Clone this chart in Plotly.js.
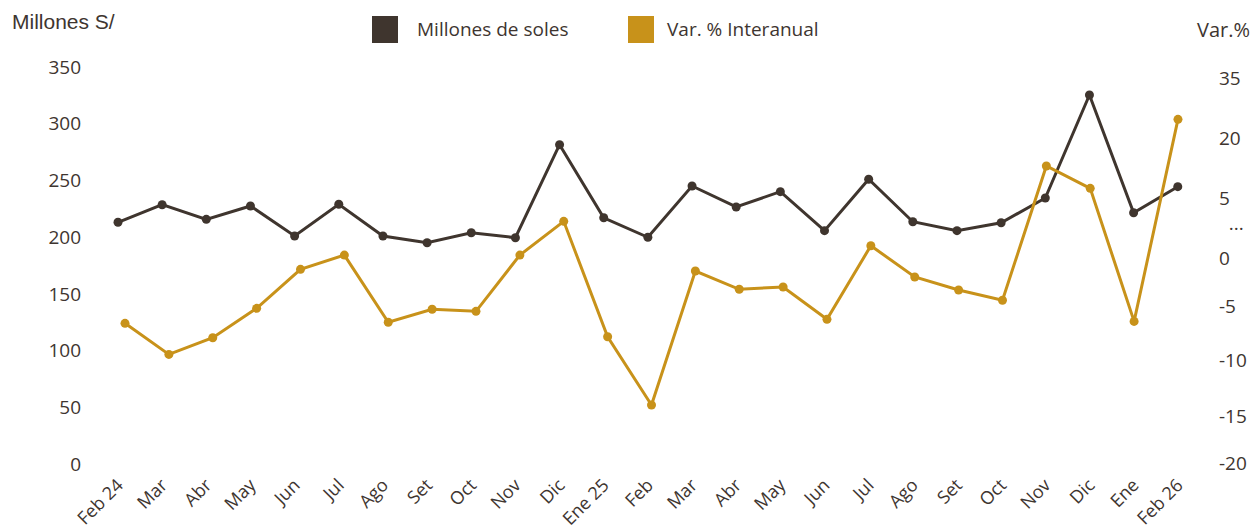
<!DOCTYPE html>
<html>
<head>
<meta charset="utf-8">
<script src="https://cdn.plot.ly/plotly-3.0.1.min.js"></script>
<style>html,body{margin:0;padding:0;background:#fff;}#chart{width:1258px;height:530px;}</style>
</head>
<body>
<div id="chart"></div>
<script>
// Categories (months)
var months = ["Feb 24","Mar","Abr","May","Jun","Jul","Ago","Set","Oct","Nov","Dic","Ene 25",
              "Feb","Mar ","Abr ","May ","Jun ","Jul ","Ago ","Set ","Oct ","Nov ","Dic ","Ene","Feb 26"];
var monthLabels = ["Feb 24","Mar","Abr","May","Jun","Jul","Ago","Set","Oct","Nov","Dic","Ene 25",
              "Feb","Mar","Abr","May","Jun","Jul","Ago","Set","Oct","Nov","Dic","Ene","Feb 26"];

// Millones de soles (left axis)
var millonesSoles = [213.1,228.6,215.7,227.5,201.0,229.0,201.0,195.1,203.9,199.5,281.5,217.1,
                     199.9,245.1,226.6,240.1,205.7,251.0,213.6,205.7,212.7,234.5,325.3,221.5,244.5];

// Var. % interanual (right axis, in the axis' drawn units)
var varInteranual = [-6.37,-9.40,-7.78,-4.91,-1.10,0.29,-6.27,-5.00,-5.20,0.29,3.58,-7.68,
                     -14.34,-1.27,-3.05,-2.83,-5.98,1.20,-1.85,-3.12,-4.12,8.98,6.80,-6.18,13.53];

// Axis ticks
var leftTicks = [0,50,100,150,200,250,300,350];
var rightTickVals = [-20,-15.4,-9.95,-4.75,0,3.4,5.85,11.7,17.55];
var rightTickText = ["-20","-15","-10","-5","0","\u00a0\u00a0...","5","20","35"];

var darkColor = "#3f352e";
var goldColor = "#c8921a";
var textColor = "#3e3530";
var font = "Open Sans, Noto Sans, sans-serif";

var traces = [
  {
    x: months, y: millonesSoles, xaxis: "x", yaxis: "y",
    type: "scatter", mode: "lines+markers", name: "Millones de soles",
    line: {color: darkColor, width: 3}, marker: {color: darkColor, size: 9},
    showlegend: false, hoverinfo: "y"
  },
  {
    x: months, y: varInteranual, xaxis: "x2", yaxis: "y2",
    type: "scatter", mode: "lines+markers", name: "Var. % Interanual",
    line: {color: goldColor, width: 3}, marker: {color: goldColor, size: 9},
    showlegend: false, hoverinfo: "y"
  }
];

var L = 90, R = 48, T = 60, B = 60;
var W = 1258 - L - R, H = 530 - T - B;
function px(xp){ return (xp - L) / W; }
function py(yp){ return (530 - B - yp) / H; }

var layout = {
  width: 1258, height: 530,
  margin: {l: L, r: R, t: T, b: B},
  paper_bgcolor: "#ffffff",
  plot_bgcolor: "rgba(0,0,0,0)",
  font: {family: font, color: textColor, size: 19},
  showlegend: false,
  xaxis: {
    type: "category", categoryorder: "array", categoryarray: months,
    tickvals: months, ticktext: monthLabels,
    range: [-0.634, 24.73], tickangle: -45,
    showgrid: false, zeroline: false, showline: false, ticks: "",
    tickfont: {size: 18, color: textColor}, fixedrange: true
  },
  xaxis2: {
    type: "category", categoryorder: "array", categoryarray: months,
    range: [-0.634, 24.73], domain: [0.00642, 1], anchor: "y2",
    visible: false, fixedrange: true
  },
  yaxis: {
    range: [-5.29, 356.17], tickvals: leftTicks,
    showgrid: false, zeroline: false, showline: false, ticks: "",
    ticklabelstandoff: 8,
    tickfont: {size: 19, color: textColor}, fixedrange: true
  },
  yaxis2: {
    range: [-20.68, 19.32], anchor: "x2", side: "right",
    tickvals: rightTickVals, ticktext: rightTickText,
    showgrid: false, zeroline: false, showline: false, ticks: "",
    ticklabelstandoff: 8,
    tickfont: {size: 19, color: textColor}, fixedrange: true
  },
  shapes: [
    {type: "rect", xref: "paper", yref: "paper", x0: px(372), x1: px(398), y0: py(43), y1: py(16),
     fillcolor: darkColor, line: {width: 0}},
    {type: "rect", xref: "paper", yref: "paper", x0: px(628), x1: px(654), y0: py(43), y1: py(16),
     fillcolor: goldColor, line: {width: 0}}
  ],
  annotations: [
    {text: "Millones de soles", xref: "paper", yref: "paper", x: px(415), y: py(29),
     xanchor: "left", yanchor: "middle", showarrow: false, font: {size: 19, color: textColor}},
    {text: "Var. % Interanual", xref: "paper", yref: "paper", x: px(665), y: py(29),
     xanchor: "left", yanchor: "middle", showarrow: false, font: {size: 19, color: textColor}},
    {text: "Millones S/", xref: "paper", yref: "paper", x: px(10), y: py(22),
     xanchor: "left", yanchor: "middle", showarrow: false,
     font: {family: "Liberation Sans, Arial, sans-serif", size: 21, color: textColor}},
    {text: "Var.%", xref: "paper", yref: "paper", x: px(1195), y: py(30),
     xanchor: "left", yanchor: "middle", showarrow: false, font: {size: 20, color: textColor}}
  ]
};

Plotly.newPlot("chart", traces, layout, {displayModeBar: false, staticPlot: true});
</script>
</body>
</html>
